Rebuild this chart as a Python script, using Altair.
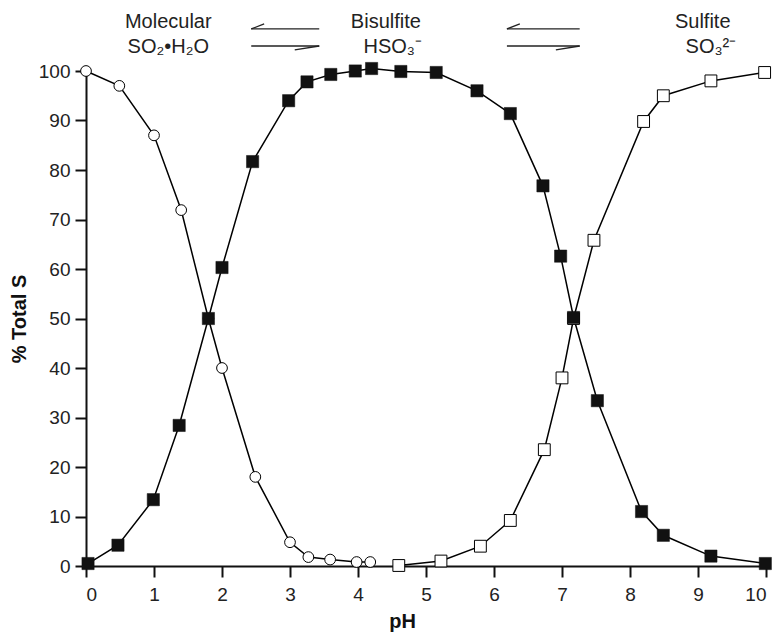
import altair as alt
import pandas as pd

# Molecular SO2*H2O (open circles)
mol_ph = [0, 0.49, 1.0, 1.4, 1.8, 2.0, 2.49, 3.0, 3.27, 3.59, 3.98, 4.18]
mol_pct = [100, 97, 87, 71.9, 50, 40, 18, 4.8, 1.8, 1.3, 0.8, 0.8]

# Bisulfite HSO3- (filled squares)
bis_ph = [0.03, 0.47, 0.99, 1.37, 1.8, 2.0, 2.45, 2.98, 3.25, 3.6, 3.96, 4.2,
          4.63, 5.15, 5.75, 6.24, 6.72, 6.98, 7.17, 7.52, 8.17, 8.49, 9.19, 9.99]
bis_pct = [0.5, 4.2, 13.4, 28.4, 50, 60.3, 81.7, 94, 97.8, 99.3, 100, 100.5,
           99.9, 99.7, 96, 91.4, 76.8, 62.6, 50.2, 33.4, 11, 6.2, 2.0, 0.5]

# Sulfite SO3 2- (open squares)
sul_ph = [4.6, 5.22, 5.8, 6.24, 6.74, 7.0, 7.17, 7.47, 8.2, 8.49, 9.19, 9.98]
sul_pct = [0.1, 1.0, 4.0, 9.2, 23.5, 38, 50, 65.8, 89.8, 95, 98, 99.7]

# annotation texts and anchors (data units)
lab_text = ["Molecular", "SO₂•H₂O", "Bisulfite", "HSO₃⁻", "Sulfite", "SO₃²⁻"]
lab_x = [1.21, 1.21, 4.41, 4.51, 9.07, 9.19]
lab_y = [109.9, 104.85, 109.9, 104.85, 109.9, 104.85]

# equilibrium arrows (x, x2, y, y2)
arr_x = [2.43, 2.43, 2.43, 3.43, 6.19, 6.19, 6.19, 7.26]
arr_x2 = [3.43, 2.62, 3.43, 3.07, 7.26, 6.38, 7.26, 6.91]
arr_y = [108.5, 108.5, 105.05, 105.05, 108.5, 108.5, 105.05, 105.05]
arr_y2 = [108.5, 109.5, 105.05, 104.25, 108.5, 109.5, 105.05, 104.25]

FONT = "Liberation Sans"

mol = pd.DataFrame({"pH": mol_ph, "v": mol_pct})
bis = pd.DataFrame({"pH": bis_ph, "v": bis_pct})
sul = pd.DataFrame({"pH": sul_ph, "v": sul_pct})
labs = pd.DataFrame({"t": lab_text, "x": lab_x, "y": lab_y})
arrs = pd.DataFrame({"x": arr_x, "x2": arr_x2, "y": arr_y, "y2": arr_y2})

xs = alt.Scale(domain=[0, 10], nice=False)
ys = alt.Scale(domain=[0, 100], nice=False)

X = alt.X("pH:Q", scale=xs, title="pH",
          axis=alt.Axis(values=list(range(0, 11)), format="d",
                        titleX=316, titleY=55, titleBaseline="middle", titleAlign="center"))
Y = alt.Y("v:Q", scale=ys, title="% Total S",
          axis=alt.Axis(values=list(range(0, 101, 10)), format="d"))


def line(df):
    return alt.Chart(df).mark_line(color="black", strokeWidth=1.5, clip=False).encode(x=X, y=Y, order="pH:Q")


lines = line(mol) + line(bis) + line(sul)

mol_pts = alt.Chart(mol).mark_point(shape="circle", size=115, filled=True, fill="white",
                                    stroke="black", strokeWidth=1, opacity=1).encode(x=X, y=Y)
sul_pts = alt.Chart(sul).mark_point(shape="square", size=140, filled=True, fill="white",
                                    stroke="black", strokeWidth=1, opacity=1).encode(x=X, y=Y)
bis_pts = alt.Chart(bis).mark_point(shape="square", size=150, filled=True, fill="#111111",
                                    stroke="#111111", strokeWidth=0.5, opacity=1).encode(x=X, y=Y)

texts = alt.Chart(labs).mark_text(font=FONT, fontSize=20, color="#222222", align="center",
                                  baseline="middle").encode(
    x=alt.X("x:Q", scale=xs), y=alt.Y("y:Q", scale=ys), text="t:N")

arrows = alt.Chart(arrs).mark_rule(color="#222222", strokeWidth=1.3).encode(
    x=alt.X("x:Q", scale=xs), x2="x2:Q", y=alt.Y("y:Q", scale=ys), y2="y2:Q")

chart = alt.layer(lines, mol_pts, sul_pts, bis_pts, texts, arrows).properties(
    width=680, height=495, autosize="none",
    padding={"left": 78, "top": 63, "right": 6, "bottom": 72},
).configure_view(stroke=None).configure_axis(
    grid=False, domainColor="#111111", domainWidth=2, tickColor="#111111", tickWidth=2,
    tickSize=11, labelFont=FONT, labelFontSize=19, labelColor="#222222",
    titleFont=FONT, titleFontSize=20, titleFontWeight="bold", titleColor="#111111",
).configure_axisX(labelPadding=8).configure_axisY(labelPadding=5, titlePadding=9)

chart.save("out.html", embed_options={"renderer": "svg", "actions": False})
